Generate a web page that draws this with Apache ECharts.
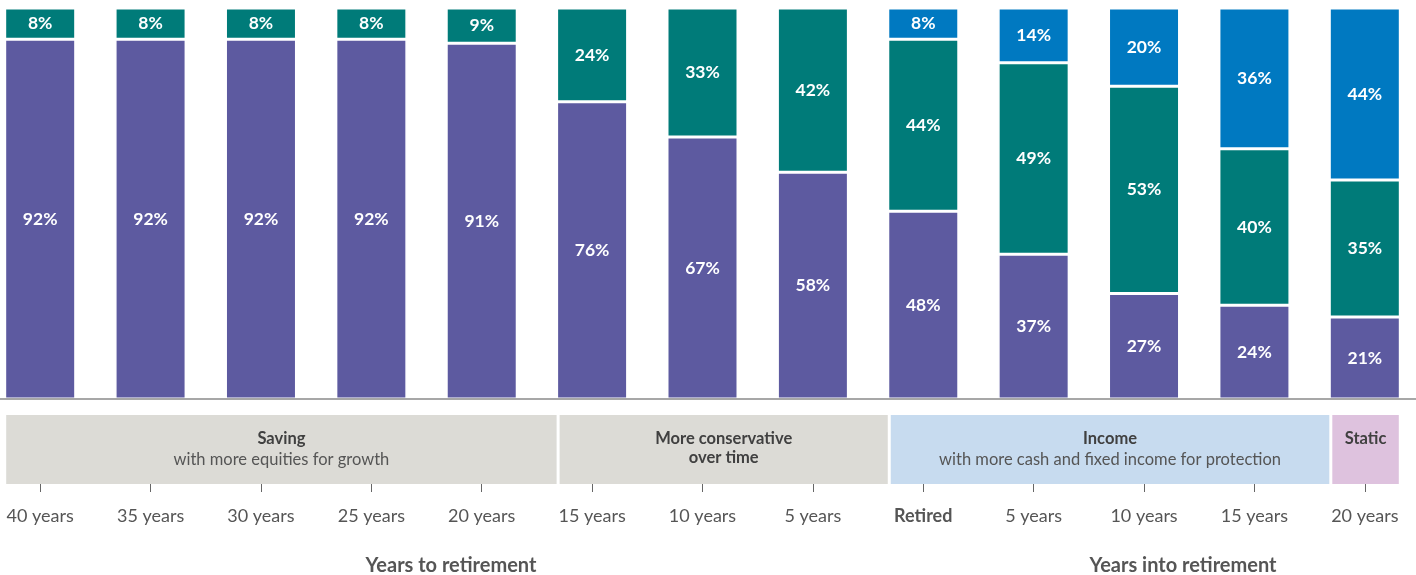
<!DOCTYPE html>
<html>
<head>
<meta charset="utf-8">
<script src="https://cdn.jsdelivr.net/npm/echarts@6/dist/echarts.min.js"></script>
<style>
html,body{margin:0;padding:0;background:#fff;}
#chart{width:1416px;height:575px;}
</style>
</head>
<body>
<div id="chart"></div>
<script>
// ---- Data ----
const categories = ['40 years','35 years','30 years','25 years','20 years','15 years','10 years','5 years','Retired','5 years','10 years','15 years','20 years'];
const equities = [92,92,92,92,91,76,67,58,48,37,27,24,21];
const fixedIncome = [8,8,8,8,9,24,33,42,44,49,53,40,35];
const cash = [0,0,0,0,0,0,0,0,8,14,20,36,44];

const phaseTitles = ['Saving','More conservative\nover time','Income','Static'];
const phaseSubtitles = ['with more equities for growth','','with more cash and fixed income for protection',''];
const phaseFrom = [0,5,8,12];
const phaseTo = [4,7,11,12];

const axisTitles = ['Years to retirement','Years into retirement'];

// ---- Styling ----
const FONT = 'Lato, "Open Sans", sans-serif';
const colors = { equities:'#5d5aa0', fixed:'#007b79', cash:'#0079c1' };
const phaseColors = ['#dcdbd6','#dcdbd6','#c7dbef','#dec2de'];
const BAR_VISIBLE = 68;

const chart = echarts.init(document.getElementById('chart'), null, {renderer:'canvas'});

function barSeries(name, data, color) {
  return {
    name, type:'bar', stack:'total', data,
    xAxisIndex:0, yAxisIndex:0,
    barWidth: BAR_VISIBLE + 3,
    itemStyle:{ color, borderColor:'#ffffff', borderWidth:1.5 },
    label:{
      show:true, position:'inside', color:'#ffffff',
      fontFamily:FONT, fontSize:17.5, fontWeight:'bold',
      formatter: p => p.value > 0 ? p.value + '%' : ''
    },
    emphasis:{disabled:true}
  };
}

const option = {
  animation:false,
  backgroundColor:'#ffffff',
  grid:[
    {left:-15, width:1435, top:8, height:391, containLabel:false, outerBoundsMode:'none'},
    {left:-15, width:1435, top:415, height:69, containLabel:false, outerBoundsMode:'none'}
  ],
  xAxis:[
    {type:'category', gridIndex:0, data:categories, z:5,
     axisLine:{show:true, lineStyle:{color:'#8a8a8a', width:1.5}},
     axisTick:{show:false}, axisLabel:{show:false}},
    {type:'category', gridIndex:1, data:categories, position:'bottom',
     axisLine:{show:false},
     axisTick:{show:true, alignWithLabel:true, length:8, lineStyle:{color:'#666', width:1}},
     axisLabel:{show:true, interval:0, margin:23, color:'#555', fontFamily:FONT, fontSize:18,
       hideOverlap:false,
       formatter: v => v === 'Retired' ? '{b|Retired}' : v,
       rich:{ b:{fontWeight:'bold', color:'#555', fontFamily:FONT, fontSize:18} } }}
  ],
  yAxis:[
    {type:'value', gridIndex:0, min:0, max:100, show:false},
    {type:'value', gridIndex:1, min:0, max:1, show:false}
  ],
  series:[
    barSeries('Equities', equities, colors.equities),
    barSeries('Fixed income', fixedIncome, colors.fixed),
    barSeries('Cash', cash, colors.cash),
    {
      type:'custom', xAxisIndex:1, yAxisIndex:1,
      data: phaseFrom.map((f,i)=>[f, phaseTo[i]]),
      encode:{x:[0,1]},
      silent:true,
      renderItem:(params, api) => {
        const i = params.dataIndex;
        const n = phaseFrom.length;
        const half = BAR_VISIBLE/2;
        const from = api.value(0), to = api.value(1);
        const cs = params.coordSys;
        let x0 = api.coord([from,0])[0] - half + (i>0 ? 1.5 : 0);
        let x1 = (i < n-1) ? api.coord([to+1,0])[0] - half - 1.5 : api.coord([to,0])[0] + half;
        const title = phaseTitles[i].split('\n').map(t=>'{t|'+t+'}').join('\n');
        const txt = phaseSubtitles[i] ? title + '\n{s|' + phaseSubtitles[i] + '}' : title;
        return {
          type:'group',
          children:[
            {type:'rect', shape:{x:x0, y:cs.y, width:x1-x0, height:cs.height},
             style:{fill:phaseColors[i]}},
            {type:'text', x:(x0+x1)/2, y:cs.y+14,
             style:{
               text:txt, align:'center', verticalAlign:'top',
               rich:{
                 t:{fill:'#404040', fontWeight:'bold', fontSize:16.5, fontFamily:FONT, lineHeight:19},
                 s:{fill:'#555555', fontWeight:'normal', fontSize:16.5, fontFamily:FONT, lineHeight:23}
               }
             }}
          ]
        };
      }
    }
  ],
  graphic:[
    {type:'text', x:451, y:566,
     style:{text:axisTitles[0], fill:'#555', font:'bold 20px ' + FONT, textAlign:'center', textVerticalAlign:'middle', align:'center', verticalAlign:'middle'}},
    {type:'text', x:1183, y:566,
     style:{text:axisTitles[1], fill:'#555', font:'bold 20px ' + FONT, textAlign:'center', textVerticalAlign:'middle', align:'center', verticalAlign:'middle'}}
  ]
};
chart.setOption(option);
</script>
</body>
</html>
